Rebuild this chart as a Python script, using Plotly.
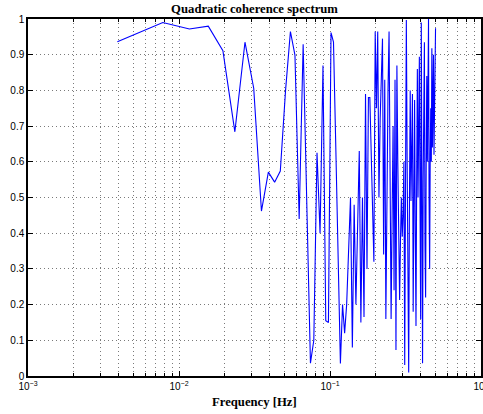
import numpy as np
import plotly.graph_objects as go

# Frequency bins: k / 256 Hz, k = 1..128
n_fft = 256
bins = list(range(1, 129))
freq_hz = [k / n_fft for k in bins]

# Quadratic coherence per bin
coherence = [
    0.936, 0.990, 0.972, 0.980, 0.911, 0.684, 0.935, 0.806, 0.462, 0.571,
    0.543, 0.574, 0.800, 0.965, 0.899, 0.440, 0.929, 0.500, 0.036, 0.100,
    0.625, 0.400, 0.870, 0.155, 0.150, 0.962, 0.935, 0.630, 0.330, 0.035,
    0.200, 0.120, 0.200, 0.330, 0.500, 0.080, 0.480, 0.200, 0.420, 0.630,
    0.150, 0.500, 0.165, 0.790, 0.300, 0.780, 0.780, 0.620, 0.450, 0.320,
    0.965, 0.750, 0.965, 0.500, 0.720, 0.880, 0.945, 0.340, 0.830, 0.160,
    0.550, 0.800, 0.965, 0.400, 0.160, 0.450, 0.700, 0.240, 0.830, 0.073,
    0.870, 0.600, 0.420, 0.213, 0.380, 0.500, 0.390, 0.450, 0.600, 0.031,
    0.550, 0.997, 0.600, 0.115, 0.010, 0.500, 0.800, 0.490, 0.600, 0.790,
    0.180, 0.450, 0.773, 0.400, 0.140, 0.550, 0.860, 0.500, 0.650, 0.894,
    0.500, 0.160, 0.990, 0.300, 0.036, 0.550, 0.750, 0.935, 0.370, 0.220,
    0.600, 0.840, 0.600, 0.800, 1.000, 0.490, 0.300, 0.620, 0.750, 0.600,
    0.918, 0.640, 0.820, 0.900, 0.620, 0.800, 0.960, 0.974,
]

x_major = [1e-3, 1e-2, 1e-1, 1.0]
x_major_text = ["10<sup>\u22123</sup>", "10<sup>\u22122</sup>",
                "10<sup>\u22121</sup>", "10<sup>0</sup>"]
x_minor = [m * d for d in (1e-3, 1e-2, 1e-1) for m in range(2, 10)]
y_ticks = [i / 10 for i in range(11)]
y_tick_text = ["0", "0.1", "0.2", "0.3", "0.4", "0.5", "0.6", "0.7", "0.8", "0.9", "1"]

grid_dash = "1px,3px"
grid_color = "#7a7a7a"
tick_font = dict(family="Liberation Sans, Arial, sans-serif", size=10, color="black")
label_font = dict(family="Liberation Serif, Times New Roman, serif", size=12.7, color="black")

fig = go.Figure()
fig.add_trace(go.Scatter(
    x=freq_hz, y=coherence, mode="lines",
    line=dict(color="#0000ff", width=1.1),
    showlegend=False,
))

fig.update_layout(
    width=483, height=414,
    margin=dict(l=28, r=2, t=19, b=38, autoexpand=False),
    paper_bgcolor="white", plot_bgcolor="white",
    title=dict(text="<b>Quadratic coherence spectrum</b>", font=label_font,
               x=0.5, xanchor="center", xref="paper",
               y=1 - 9 / 414, yref="container", yanchor="middle"),
)

fig.update_xaxes(
    type="log", range=[-3, 0], automargin=False,
    tickmode="array", tickvals=x_major, ticktext=x_major_text,
    tickfont=tick_font, ticklabeloverflow="allow",
    ticks="inside", ticklen=5, tickcolor="black", tickwidth=1,
    showline=True, linecolor="black", linewidth=1.5, mirror="allticks",
    showgrid=True, gridcolor=grid_color, griddash=grid_dash, gridwidth=1,
    minor=dict(tickmode="array", tickvals=x_minor, ticks="inside", ticklen=3,
               tickcolor="black", showgrid=True, gridcolor=grid_color,
               griddash=grid_dash, gridwidth=1),
    zeroline=False,
)
fig.update_yaxes(
    range=[0, 1], automargin=False,
    tickmode="array", tickvals=y_ticks, ticktext=y_tick_text,
    tickfont=tick_font, ticklabeloverflow="allow",
    ticks="inside", ticklen=5, tickcolor="black", tickwidth=1,
    showline=True, linecolor="black", linewidth=1.5, mirror="allticks",
    showgrid=True, gridcolor=grid_color, griddash=grid_dash, gridwidth=1,
    zeroline=False,
)

fig.add_annotation(
    text="<b>Frequency [Hz]</b>", font=label_font, showarrow=False,
    xref="paper", x=0.5, yref="paper", y=0, yshift=-26, yanchor="middle",
)

fig.write_html("out.html")
